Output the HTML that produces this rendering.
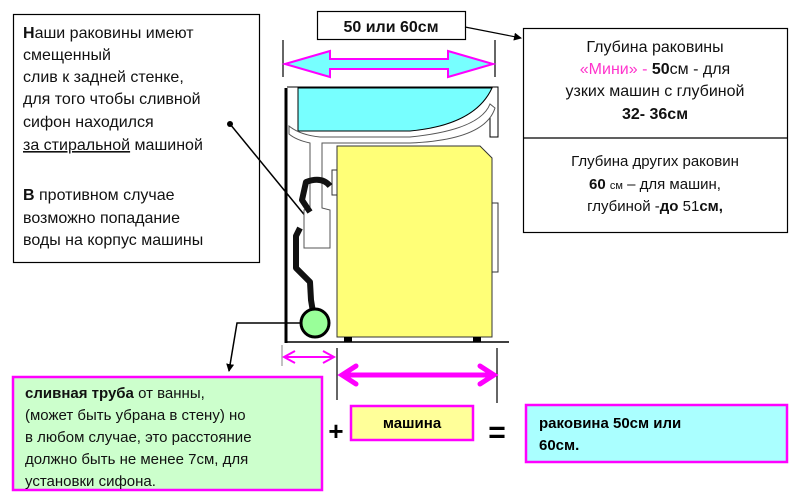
<!DOCTYPE html>
<html><head><meta charset="utf-8"><style>
html,body{margin:0;padding:0;background:#fff;}
svg{display:block;font-family:"Liberation Sans","DejaVu Sans",sans-serif;}
</style></head><body>
<svg width="800" height="501" viewBox="0 0 800 501" xmlns="http://www.w3.org/2000/svg">
<defs>
<marker id="ah" markerWidth="8" markerHeight="8" refX="7" refY="4" orient="auto" markerUnits="userSpaceOnUse"><path d="M0,0 L8,4 L0,8 z" fill="#000"/></marker>
</defs>
<rect x="13.5" y="14.5" width="246" height="248" fill="#fff" stroke="#000" stroke-width="1.2"/>
<g font-size="16" fill="#111">
<text x="23" y="38"><tspan font-weight="bold">Н</tspan>аши раковины  имеют</text>
<text x="23" y="60">смещенный</text>
<text x="23" y="82">слив к задней стенке,</text>
<text x="23" y="104">для того чтобы сливной</text>
<text x="23" y="127">сифон находился</text>
<text x="23" y="150"><tspan text-decoration="underline">за стиральной</tspan> машиной</text>
<text x="23" y="200"><tspan font-weight="bold">В</tspan> противном случае</text>
<text x="23" y="223">возможно попадание</text>
<text x="23" y="245">воды на корпус машины</text>
</g>
<circle cx="230" cy="124" r="3" fill="#000"/>
<line x1="230" y1="124" x2="316" y2="229" stroke="#000" stroke-width="1.5" marker-end="url(#ah)"/>

<rect x="317.5" y="11.5" width="148" height="28" fill="#fff" stroke="#000" stroke-width="1.2"/>
<text x="391" y="32" font-size="16" font-weight="bold" text-anchor="middle" fill="#111">50 или 60см</text>
<line x1="465" y1="27" x2="521" y2="38" stroke="#000" stroke-width="1.2" marker-end="url(#ah)"/>
<line x1="283" y1="40" x2="283" y2="77" stroke="#000" stroke-width="1.2"/>
<line x1="495" y1="40" x2="495" y2="77" stroke="#000" stroke-width="1.2"/>
<path d="M285,64 L330,51 L330,59 L448,59 L448,51 L493,64 L448,77 L448,69 L330,69 L330,77 Z" fill="#7ff" stroke="#f0f" stroke-width="2"/>

<line x1="286" y1="88" x2="286" y2="343" stroke="#000" stroke-width="3"/>
<line x1="286" y1="342" x2="509" y2="342" stroke="#000" stroke-width="1.5"/>
<path d="M287,87 L498,87 L498,137 L490,137 L490,104" fill="none" stroke="#000" stroke-width="1"/>
<path d="M298,88 L492,88 Q475,125 410,131 L298,131 Z" fill="#7ff" stroke="#000" stroke-width="1"/>
<path d="M289,126 Q300,135 320,137 L410,137 Q480,130 490,104 L495,108 Q485,140 410,143 L322,143 L322,208 L330,210 L330,248 L304,248 L304,210 L310,208 L310,143 Q296,140 289,134 Z" fill="#fff" stroke="#555" stroke-width="1"/>
<rect x="492" y="203" width="6" height="69" fill="#fff" stroke="#333" stroke-width="1"/>
<rect x="332" y="170" width="6" height="25" fill="#fff" stroke="#333" stroke-width="1"/>
<path d="M337,146 L480,146 L492,158 L492,337 L337,337 Z" fill="#ff7" stroke="#333" stroke-width="1"/>
<rect x="344" y="337" width="8" height="5" fill="#000"/>
<rect x="473" y="337" width="8" height="5" fill="#000"/>
<path d="M330,186 Q322,176 306,182 L302,200 L310,212 M300,228 L296,236 L296,268 L310,282 L311,300 L313,312" fill="none" stroke="#111" stroke-width="6" stroke-linejoin="round"/>
<circle cx="315" cy="323" r="14" fill="#9f9" stroke="#000" stroke-width="3"/>
<polyline points="301,323 237,323 229,371" fill="none" stroke="#000" stroke-width="1.5" marker-end="url(#ah)"/>

<line x1="282" y1="345" x2="282" y2="366" stroke="#999" stroke-width="1.2"/>
<line x1="284" y1="357" x2="334" y2="357" stroke="#f0f" stroke-width="2"/>
<path d="M295,351 L284,357 L295,363 M323,351 L334,357 L323,363" fill="none" stroke="#f0f" stroke-width="2"/>
<line x1="337" y1="348" x2="337" y2="400" stroke="#000" stroke-width="1.2"/>
<line x1="497" y1="348" x2="497" y2="403" stroke="#000" stroke-width="1.2"/>
<line x1="342" y1="375" x2="494" y2="375" stroke="#f0f" stroke-width="5"/>
<path d="M356,366 L342,375 L356,384 M480,366 L494,375 L480,384" fill="none" stroke="#f0f" stroke-width="5" stroke-linecap="round"/>

<rect x="523.5" y="28.5" width="264" height="204" fill="#fff" stroke="#000" stroke-width="1.2"/>
<line x1="523" y1="138" x2="787" y2="138" stroke="#000" stroke-width="1.2"/>
<g font-size="16" fill="#111" text-anchor="middle">
<text x="655" y="52">Глубина раковины</text>
<text x="655" y="74"><tspan fill="#f3c">«Мини» - </tspan><tspan font-weight="bold">50</tspan>см - для</text>
<text x="655" y="96">узких машин с   глубиной</text>
<text x="655" y="119" font-weight="bold">32- 36см</text>
<text x="655" y="166" font-size="15">Глубина других раковин</text>
<text x="655" y="189" font-size="15"><tspan font-weight="bold">60</tspan> <tspan font-size="11">см</tspan> – для машин,</text>
<text x="655" y="211" font-size="15">глубиной -<tspan font-weight="bold">до</tspan>   51<tspan font-weight="bold">см,</tspan></text>
</g>

<rect x="13" y="377" width="309" height="113" fill="#cfc" stroke="#f0f" stroke-width="2.5"/>
<g font-size="15" fill="#111">
<text x="25" y="398"><tspan font-weight="bold">сливная  труба</tspan>   от ванны,</text>
<text x="25" y="420">(может быть убрана в стену) но</text>
<text x="25" y="442">в любом случае, это расстояние</text>
<text x="25" y="464">должно быть не менее 7см, для</text>
<text x="25" y="486">установки сифона.</text>
</g>
<text x="336" y="440" font-size="26" font-weight="bold" text-anchor="middle">+</text>
<rect x="351" y="406" width="122" height="34" fill="#ff9" stroke="#f0f" stroke-width="2.5"/>
<text x="412" y="428" font-size="15" font-weight="bold" text-anchor="middle">машина</text>
<text x="497" y="442" font-size="30" font-weight="bold" text-anchor="middle">=</text>
<rect x="526" y="405" width="261" height="57" fill="#aff" stroke="#f0f" stroke-width="2.5"/>
<text x="539" y="428" font-size="15" font-weight="bold">раковина 50см или</text>
<text x="539" y="450" font-size="15" font-weight="bold">60см.</text>
</svg>
</body></html>
